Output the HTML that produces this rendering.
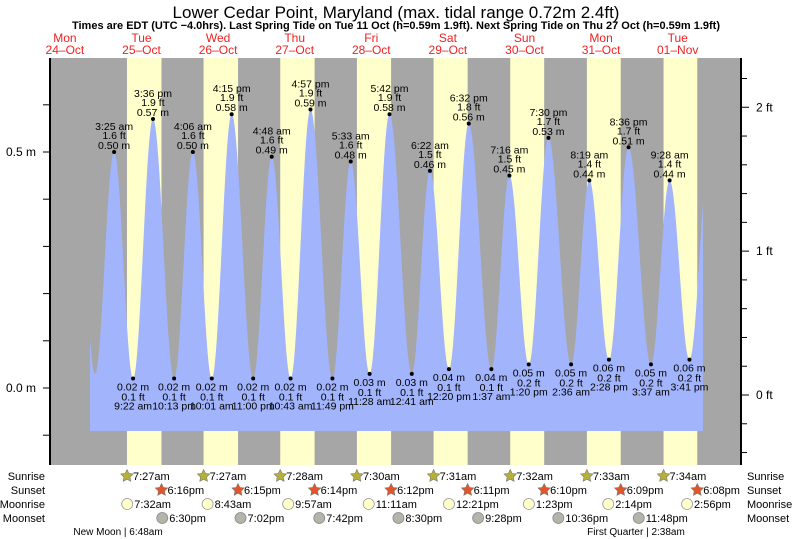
<!DOCTYPE html>
<html><head><meta charset="utf-8"><style>
html,body{margin:0;padding:0;background:#fff;}
svg{display:block;font-family:"Liberation Sans",sans-serif;}
</style></head><body>
<svg id="chart" width="793" height="539" viewBox="0 0 793 539" xmlns="http://www.w3.org/2000/svg">
<text x="396" y="18" font-size="17" text-anchor="middle">Lower Cedar Point, Maryland (max. tidal range 0.72m 2.4ft)</text>
<text x="396" y="29" font-size="11" font-weight="bold" text-anchor="middle">Times are EDT (UTC −4.0hrs). Last Spring Tide on Tue 11 Oct (h=0.59m 1.9ft). Next Spring Tide on Thu 27 Oct (h=0.59m 1.9ft)</text>
<g id="bg"></g><g id="tide"></g><g id="axes"></g><g id="labels"></g><g id="astro"></g>
</svg>
<script>
// ---- data ----
const dayNames = ["Mon","Tue","Wed","Thu","Fri","Sat","Sun","Mon","Tue"];
const dayDates = ["24–Oct","25–Oct","26–Oct","27–Oct","28–Oct","29–Oct","30–Oct","31–Oct","01–Nov"];
const tideDay  = [0,0,1,1,1,1,2,2,2,2,3,3,3,3,4,4,4,5,5,5,5,6,6,6,6,7,7,7,7,8,8,8,8];
const tideTime = ["15:00","21:26","3:25","9:22","15:36","22:13","4:06","10:01","16:15","23:00","4:48","10:43","16:57","23:49","5:33","11:28","17:42","0:41","6:22","12:20","18:32","1:37","7:16","13:20","19:30","2:36","8:19","14:28","20:36","3:37","9:28","15:41","22:00"];
const tideH    = [0.57,0.03,0.50,0.02,0.57,0.02,0.50,0.02,0.58,0.02,0.49,0.02,0.59,0.02,0.48,0.03,0.58,0.03,0.46,0.04,0.56,0.04,0.45,0.05,0.53,0.05,0.44,0.06,0.51,0.05,0.44,0.06,0.50];
const tideFt   = ["","","1.6","0.1","1.9","0.1","1.6","0.1","1.9","0.1","1.6","0.1","1.9","0.1","1.6","0.1","1.9","0.1","1.5","0.1","1.8","0.1","1.5","0.2","1.7","0.2","1.4","0.2","1.7","0.2","1.4","0.2",""];
const tideLbl  = ["","","3:25 am","9:22 am","3:36 pm","10:13 pm","4:06 am","10:01 am","4:15 pm","11:00 pm","4:48 am","10:43 am","4:57 pm","11:49 pm","5:33 am","11:28 am","5:42 pm","12:41 am","6:22 am","12:20 pm","6:32 pm","1:37 am","7:16 am","1:20 pm","7:30 pm","2:36 am","8:19 am","2:28 pm","8:36 pm","3:37 am","9:28 am","3:41 pm",""];
const sunrise  = ["7:27","7:27","7:28","7:30","7:31","7:32","7:33","7:34"];
const sunset   = ["18:16","18:15","18:14","18:12","18:11","18:10","18:09","18:08"];
const moonrise = ["7:32","8:43","9:57","11:11","12:21","13:23","14:14","14:56"];
const moonset  = ["18:30","19:02","19:42","20:30","21:28","22:36","23:48"];
const mTicks = [-0.1,0,0.1,0.2,0.3,0.4,0.5,0.6,0.7];
const mLabels = {"0":"0.0 m","0.5":"0.5 m"};
const ftLabels = [0,1,2];

// ---- scales ----
const X0=26.6, DX=76.6, Y0=388, PY=472;
const plotL=50, plotR=740, plotT=58, plotB=465, fillL=90, fillR=703, fillB=431;
const x = t => X0 + DX*t;
const y = h => Y0 - PY*h;
const hr = s => {const [a,b]=s.split(':').map(Number);return (a+b/60)/24;};
function fmt12(s){let [a,b]=s.split(':').map(Number);const p=a>=12?'pm':'am';a=a%12;if(a===0)a=12;return a+':'+String(b).padStart(2,'0')+p;}
const NS="http://www.w3.org/2000/svg";
function mk(tag,parent,attrs){const e=document.createElementNS(NS,tag);for(const k in attrs)e.setAttribute(k,attrs[k]);parent.appendChild(e);return e;}
function txt(parent,s,xx,yy,size,anchor,fill){const e=mk('text',parent,{x:xx,y:yy,'font-size':size,'text-anchor':anchor||'middle',fill:fill||'#000'});e.textContent=s;return e;}

const bg=document.getElementById('bg'), tide=document.getElementById('tide'), axes=document.getElementById('axes'), labels=document.getElementById('labels'), astro=document.getElementById('astro');

let r=mk('rect',bg,{x:plotL,y:plotT,width:plotR-plotL,height:plotB-plotT,fill:'#a6a6a6'});


for(let i=0;i<sunrise.length;i++){
  const a=x(i+1+hr(sunrise[i])), b=x(i+1+hr(sunset[i]));
  const d=mk('rect',bg,{x:a,y:plotT,width:b-a,height:plotB-plotT,fill:'#ffffcc'});
  
  
}
for(let i=0;i<dayNames.length;i++){
  const cx=x(i+0.5);
  const t1=txt(labels,dayNames[i],cx,42,12,'middle','#ee2222');
  
  
  const t2=txt(labels,dayDates[i],cx,54,12,'middle','#ee2222');
  
  
}

const ts=tideDay.map((d,i)=>d+hr(tideTime[i]));
function height(t){
  for(let i=0;i<ts.length-1;i++){
    if(t>=ts[i]&&t<=ts[i+1]){const f=(t-ts[i])/(ts[i+1]-ts[i]);return tideH[i]+(tideH[i+1]-tideH[i])*(1-Math.cos(Math.PI*f))/2;}
  }
  return tideH[tideH.length-1];
}
let pts=[[fillL,fillB]];
for(let px=fillL;px<=fillR;px+=0.5){pts.push([px,y(height((px-X0)/DX))]);}
pts.push([fillR,fillB]);
const poly=mk('polygon',tide,{points:pts.map(p=>p[0].toFixed(1)+','+p[1].toFixed(1)).join(' '),fill:'#a2b4fb'});



for(let i=0;i<ts.length;i++){
  if(!tideLbl[i]) continue;
  const px=x(ts[i]), py=y(tideH[i]);
  const isHigh = (i===0||tideH[i]>tideH[i-1]);
  const dot=mk('circle',labels,{cx:px,cy:py,r:2,fill:'#000'});
  
  
  const g=mk('g',labels,{});
  
  
  const m=tideH[i].toFixed(2)+' m';
  if(isHigh){
    txt(g,tideLbl[i],px,py-22,10.5);txt(g,tideFt[i]+' ft',px,py-13,10.5);txt(g,m,px,py-3,10.5);
  }else{
    txt(g,m,px,py+12,10.5);txt(g,tideFt[i]+' ft',px,py+22,10.5);txt(g,tideLbl[i],px,py+31,10.5);
  }
}

let la=mk('line',axes,{x1:plotL,y1:plotT,x2:plotL,y2:plotB,stroke:'#000','stroke-width':2});


mTicks.forEach(v=>{
  const yy=y(v); if(yy<plotT||yy>plotB) return;
  mk('line',axes,{x1:plotL-7,y1:yy,x2:plotL,y2:yy,stroke:'#000','stroke-width':1});
  const key=String(v);
  if(mLabels[key]){const t=txt(axes,mLabels[key],36,yy+4,12,'end');}
});
let ra=mk('line',axes,{x1:plotR+1,y1:plotT,x2:plotR+1,y2:plotB,stroke:'#000','stroke-width':2});


const FT0=395, PFT=PY*0.3048;
for(let k=-1.4;k<=2.6;k+=0.2){
  const yy=FT0-PFT*k; if(yy<plotT||yy>plotB) continue;
  const major=Math.abs(k-Math.round(k))<0.01;
  mk('line',axes,{x1:plotR+1,y1:yy,x2:plotR+(major?9:7),y2:yy,stroke:'#000','stroke-width':1});
}
ftLabels.forEach(v=>{const t=txt(axes,v+' ft',756,FT0-PFT*v+4,12,'start');});

const rowY={sr:480,ss:494,mr:508,ms:522};
[["Sunrise",rowY.sr],["Sunset",rowY.ss],["Moonrise",rowY.mr],["Moonset",rowY.ms]].forEach(([n,yy])=>{
  let a=txt(astro,n,45,yy,11,'end');
  let b=txt(astro,n,747,yy,11,'start');
});
function star(cx,cy,fill){
  let p=[];for(let k=0;k<10;k++){const a=-Math.PI/2+k*Math.PI/5,rr=k%2?3.2:6.5;p.push((cx+rr*Math.cos(a)).toFixed(1)+','+(cy+rr*Math.sin(a)).toFixed(1));}
  return mk('polygon',astro,{points:p.join(' '),fill:fill,stroke:'#777','stroke-width':0.6});
}
sunrise.forEach((s,i)=>{const px=x(i+1+hr(s));const st=star(px,rowY.sr-4,'#b5b03a');const t=txt(astro,fmt12(s),px+6,rowY.sr,11,'start');});
sunset.forEach((s,i)=>{const px=x(i+1+hr(s));const st=star(px,rowY.ss-4,'#e0562a');const t=txt(astro,fmt12(s),px+6,rowY.ss,11,'start');});
moonrise.forEach((s,i)=>{const px=x(i+1+hr(s));const c=mk('circle',astro,{cx:px,cy:rowY.mr-4,r:5.5,fill:'#ffffcc',stroke:'#999','stroke-width':0.8});const t=txt(astro,fmt12(s),px+7,rowY.mr,11,'start');});
moonset.forEach((s,i)=>{const px=x(i+1+hr(s));const c=mk('circle',astro,{cx:px,cy:rowY.ms-4,r:5.5,fill:'#b4b4aa',stroke:'#888','stroke-width':0.8});const t=txt(astro,fmt12(s),px+7,rowY.ms,11,'start');});
let nm=txt(astro,"New Moon | 6:48am",118,535,10,'middle');
let fq=txt(astro,"First Quarter | 2:38am",636,535,10,'middle');
</script>
</body></html>
